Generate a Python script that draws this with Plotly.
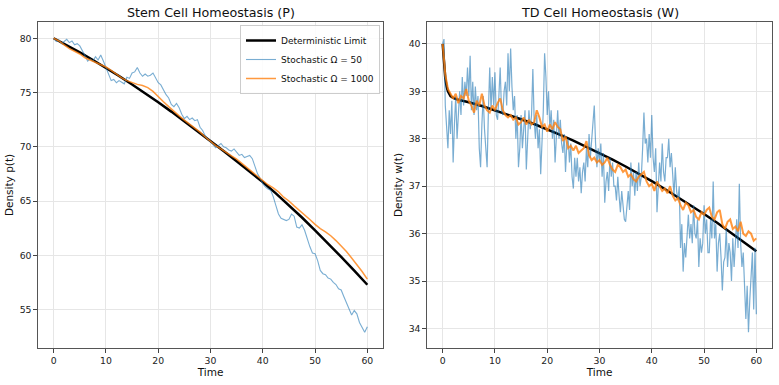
import plotly.graph_objects as go

# ---------------- data ----------------
# Deterministic limits
t_det_p = [0, 2.5, 5, 7.5, 10, 12.5, 15, 17.5, 20, 22.5, 25, 27.5, 30, 32.5, 35, 37.5,
           40, 42.5, 45, 47.5, 50, 52.5, 55, 57.5, 60]
p_det = [80.0, 79.36, 78.7, 78.0, 77.28, 76.52, 75.74, 74.94, 74.1, 73.24, 72.35, 71.44,
         70.52, 69.6, 68.67, 67.72, 66.75, 65.7, 64.62, 63.48, 62.3, 61.1, 59.85, 58.58, 57.28]

t_det_w = [0, 0.1, 0.2, 0.3, 0.5, 0.75, 1, 1.5, 2, 3, 5, 7.5, 10, 12.5, 15, 17.5, 20, 22.5,
           25, 27.5, 30, 32.5, 35, 37.5, 40, 42.5, 45, 47.5, 50, 52.5, 55, 57.5, 60]
w_det = [40.0, 39.8, 39.62, 39.48, 39.27, 39.1, 39.0, 38.9, 38.86, 38.82, 38.77, 38.69,
         38.6, 38.51, 38.41, 38.31, 38.2, 38.08, 37.96, 37.83, 37.7, 37.56, 37.415, 37.265,
         37.105, 36.94, 36.77, 36.595, 36.415, 36.23, 36.035, 35.835, 35.63]

# Stochastic, Omega = 1000 (stem cells), t = 0..60 step 1
t_p1000 = list(range(0, 61))
p_1000 = [80.0, 79.75, 79.4, 79.05, 78.8, 78.55, 78.2, 78.0, 77.75, 77.55,
          77.35, 77.05, 76.7, 76.35, 76.1, 75.9, 75.75, 75.65, 75.45, 75.1,
          74.6, 74.15, 73.7, 73.25, 72.85, 72.45, 72.1, 71.75, 71.35, 70.9,
          70.5, 70.1, 69.8, 69.45, 69.15, 68.85, 68.45, 68.05, 67.7, 67.25,
          66.9, 66.5, 66.2, 65.85, 65.35, 65.0, 64.55, 64.15, 63.7, 63.3,
          62.85, 62.45, 62.15, 61.8, 61.35, 60.85, 60.35, 59.75, 59.15, 58.5,
          57.8]

# Stochastic, Omega = 50 (stem cells), t = 0..60 step 0.5
t_p50 = [i * 0.5 for i in range(121)]
p_50 = [80.0, 79.7, 79.85, 79.5, 79.7, 79.9, 79.6, 79.75, 79.4, 79.5,
        79.3, 78.9, 78.4, 77.9, 78.1, 77.9, 78.3, 78.0, 78.45, 77.9,
        77.3, 76.7, 76.1, 76.2, 75.9, 76.1, 75.95, 75.8, 76.4, 76.3,
        76.8, 76.9, 77.3, 76.8, 76.5, 76.7, 76.5, 76.6, 76.8, 76.3,
        75.9, 75.7, 75.2, 74.8, 74.5, 73.9, 73.7, 74.0, 73.6, 73.0,
        72.6, 72.8, 72.5, 72.65, 72.4, 72.5, 71.8, 71.5, 71.0, 70.7,
        70.5, 70.1, 69.9, 70.1, 70.3, 70.0, 69.9, 69.7, 69.6, 69.8,
        69.5, 69.2, 69.3, 69.0, 69.1, 69.2, 68.9, 68.2, 67.5, 67.1,
        66.6, 66.3, 66.1, 66.0, 65.4, 64.6, 63.8, 63.4, 63.3, 63.2,
        63.3, 63.8, 63.6, 62.6, 62.5, 62.8, 62.3, 61.5, 60.8, 60.2,
        60.15, 59.5, 58.6, 58.3, 58.2, 57.9, 57.8, 57.5, 57.3, 56.9,
        56.8, 56.2, 55.6, 55.0, 54.5, 54.9, 54.6, 53.8, 53.3, 52.9,
        53.4]

# Stochastic, Omega = 1000 (TD cells), t = 0..60 step 0.5
t_w1000 = [i * 0.5 for i in range(121)]
w_1000 = [40.0, 39.35, 39.05, 38.95, 38.85, 38.95, 38.75, 38.9, 38.85, 39.05,
          38.8, 38.7, 38.55, 38.8, 38.7, 38.95, 38.7, 38.6, 38.55, 38.7,
          38.6, 38.75, 38.85, 38.6, 38.5, 38.45, 38.5, 38.4, 38.45, 38.3,
          38.35, 38.45, 38.3, 38.4, 38.3, 38.35, 38.6, 38.45, 38.25, 38.3,
          38.15, 38.3, 38.2, 38.35, 38.25, 38.2, 37.95, 38.05, 37.8, 37.85,
          37.75, 37.85, 37.7, 37.75, 37.8, 37.95, 37.65, 37.55, 37.6, 37.5,
          37.55, 37.45, 37.5, 37.6, 37.45, 37.35, 37.3, 37.45, 37.4, 37.3,
          37.35, 37.2, 37.25, 37.15, 37.1, 37.2, 37.25, 37.3, 37.1, 37.0,
          37.05, 36.9, 37.1, 37.0, 36.9, 36.95, 36.85, 37.0, 36.8, 36.7,
          36.75, 36.6, 36.5, 36.65, 36.6, 36.45, 36.5, 36.35, 36.3, 36.45,
          36.4, 36.5, 36.55, 36.35, 36.3, 36.45, 36.5, 36.2, 36.1, 36.25,
          36.3, 36.1, 36.15, 36.05, 36.25, 36.0, 35.95, 36.05, 36.0, 35.85,
          35.9]

# Stochastic, Omega = 50 (TD cells), t = 0..60 step 0.25
t_w50 = [i * 0.25 for i in range(241)]
w_50 = [40.0, 40.1, 38.7, 38.3, 37.8, 38.6, 38.1, 38.8, 37.5, 38.3,
        38.9, 38.0, 38.6, 39.0, 38.5, 39.3, 38.7, 39.2, 38.9, 39.5,
        38.9, 39.75, 38.6, 39.2, 38.5, 39.1, 38.6, 38.9, 37.8, 37.4,
        38.3, 38.9, 38.2, 37.8, 37.4, 38.6, 39.5, 38.6, 39.3, 38.7,
        39.4, 38.5, 38.4, 38.9, 39.5, 38.6, 38.5, 39.0, 39.2, 38.7,
        39.8, 39.0, 39.9, 39.1, 38.6, 38.9, 38.0, 38.5, 37.4, 37.8,
        38.5, 37.8, 38.3, 38.6, 37.35, 38.1, 38.6, 38.2, 38.5, 39.47,
        38.4, 38.0, 38.5, 37.8, 38.2, 37.25, 38.0, 38.6, 39.8, 39.3,
        38.5, 39.0, 38.2, 38.6, 38.0, 38.4, 37.5, 38.1, 38.6, 38.0,
        38.4, 37.9, 37.7, 38.1, 37.3, 37.9, 38.0, 37.5, 37.9, 37.2,
        36.95, 37.6, 37.2, 37.6, 37.1, 37.4, 36.85, 37.3, 37.5, 37.1,
        37.8, 37.4, 38.1, 37.6, 38.0, 38.3, 38.7, 37.9, 37.4, 37.8,
        37.5, 37.9, 37.2, 37.7, 36.65, 37.1, 37.3, 36.9, 37.6, 37.2,
        37.5, 37.0, 37.0, 36.7, 37.2, 36.8, 36.45, 36.9, 36.6, 36.3,
        36.25, 36.7, 36.9, 36.5, 37.5, 37.0, 37.3, 36.8, 37.3, 36.9,
        37.5, 37.0, 37.2, 37.8, 38.55, 37.9, 38.0, 37.5, 38.1, 37.6,
        38.5, 37.6, 37.3, 37.8, 36.45, 37.0, 37.5, 37.1, 37.9, 37.3,
        37.1, 37.6, 37.6, 38.0, 37.4, 37.7, 37.2, 36.8, 37.4, 36.9,
        36.7, 37.0, 35.7, 36.2, 35.2, 35.8, 35.5, 36.0, 36.4, 35.9,
        36.2, 35.8, 36.6, 36.0, 35.9, 36.3, 35.3, 35.9, 35.6, 35.8,
        36.6, 36.0, 36.3, 35.6, 35.6, 36.3, 35.9, 37.1, 35.9, 36.2,
        35.2, 35.8, 36.0, 35.5, 34.8, 35.4, 35.5, 36.1, 35.3, 35.8,
        35.6, 35.0, 35.9, 35.3, 35.9, 36.3, 35.7, 37.05, 35.8, 35.3,
        35.6, 35.0, 34.2, 34.9, 33.92, 34.6, 35.0, 35.6, 34.4, 35.7,
        34.3]

x_ticks = [0, 10, 20, 30, 40, 50, 60]
p_ticks = [55, 60, 65, 70, 75, 80]
w_ticks = [34, 35, 36, 37, 38, 39, 40]

titles = ["Stem Cell Homeostasis (P)", "TD Cell Homeostasis (W)"]
y_titles = ["Density p(t)", "Density w(t)"]
names = ["Deterministic Limit", "Stochastic Ω = 50", "Stochastic Ω = 1000"]

# ---------------- styles ----------------
BLUE = "rgba(31,119,180,0.6)"
ORANGE = "rgba(255,127,14,0.8)"
BLACK = "black"
FONT = "DejaVu Sans"

fig = go.Figure()

# left panel
fig.add_trace(go.Scatter(x=t_det_p, y=p_det, mode="lines", name=names[0],
                         line=dict(color=BLACK, width=2.5), xaxis="x", yaxis="y"))
fig.add_trace(go.Scatter(x=t_p50, y=p_50, mode="lines", name=names[1],
                         line=dict(color=BLUE, width=1.1), xaxis="x", yaxis="y"))
fig.add_trace(go.Scatter(x=t_p1000, y=p_1000, mode="lines", name=names[2],
                         line=dict(color=ORANGE, width=1.5), xaxis="x", yaxis="y"))
# right panel
fig.add_trace(go.Scatter(x=t_det_w, y=w_det, mode="lines", name=names[0], showlegend=False,
                         line=dict(color=BLACK, width=2.5), xaxis="x2", yaxis="y2"))
fig.add_trace(go.Scatter(x=t_w50, y=w_50, mode="lines", name=names[1], showlegend=False,
                         line=dict(color=BLUE, width=1.2), xaxis="x2", yaxis="y2"))
fig.add_trace(go.Scatter(x=t_w1000, y=w_1000, mode="lines", name=names[2], showlegend=False,
                         line=dict(color=ORANGE, width=2), xaxis="x2", yaxis="y2"))

W, H = 779, 385
dom_x1 = [38 / W, 383 / W]
dom_x2 = [427 / W, 772 / W]
dom_y = [1 - 348 / H, 1 - 22 / H]

axis_common = dict(
    showline=True, mirror=True, linecolor="#555", linewidth=1.2,
    showgrid=True, gridcolor="#e6e6e6", gridwidth=0.8,
    ticks="outside", ticklen=3.5, tickwidth=0.8, tickcolor="#444",
    tickfont=dict(family=FONT, size=9.3, color="#222"),
    zeroline=False,
    title_font=dict(family=FONT, size=10.5, color="#111"),
)

fig.update_layout(
    width=W, height=H,
    margin=dict(l=0, r=0, t=0, b=0),
    paper_bgcolor="white", plot_bgcolor="white",
    font=dict(family=FONT, color="#222"),
    xaxis=dict(domain=dom_x1, anchor="y", range=[-3, 63], tickvals=x_ticks,
               title=dict(text="Time", standoff=2), **axis_common),
    yaxis=dict(domain=dom_y, anchor="x", range=[51.45, 81.5], tickvals=p_ticks,
               title=dict(text=y_titles[0], standoff=4), **axis_common),
    xaxis2=dict(domain=dom_x2, anchor="y2", range=[-3, 63], tickvals=x_ticks,
                title=dict(text="Time", standoff=2), **axis_common),
    yaxis2=dict(domain=dom_y, anchor="x2", range=[33.59, 40.46], tickvals=w_ticks,
                title=dict(text=y_titles[1], standoff=4), **axis_common),
    legend=dict(x=380 / W, y=1 - 25 / H, xanchor="right", yanchor="top",
                bgcolor="rgba(255,255,255,0.85)", bordercolor="#cccccc", borderwidth=1,
                font=dict(family=FONT, size=9, color="#111"),
                tracegroupgap=0, itemwidth=30),
    showlegend=True,
    annotations=[
        dict(text=titles[0], x=(dom_x1[0] + dom_x1[1]) / 2, y=1 - 12 / H,
             xref="paper", yref="paper", showarrow=False, xanchor="center", yanchor="middle",
             font=dict(family=FONT, size=12.7, color="#111")),
        dict(text=titles[1], x=(dom_x2[0] + dom_x2[1]) / 2, y=1 - 12 / H,
             xref="paper", yref="paper", showarrow=False, xanchor="center", yanchor="middle",
             font=dict(family=FONT, size=12.7, color="#111")),
    ],
)

fig.write_html("out.html", config={"displayModeBar": False},
               post_script="document.body.style.margin='0px';")
